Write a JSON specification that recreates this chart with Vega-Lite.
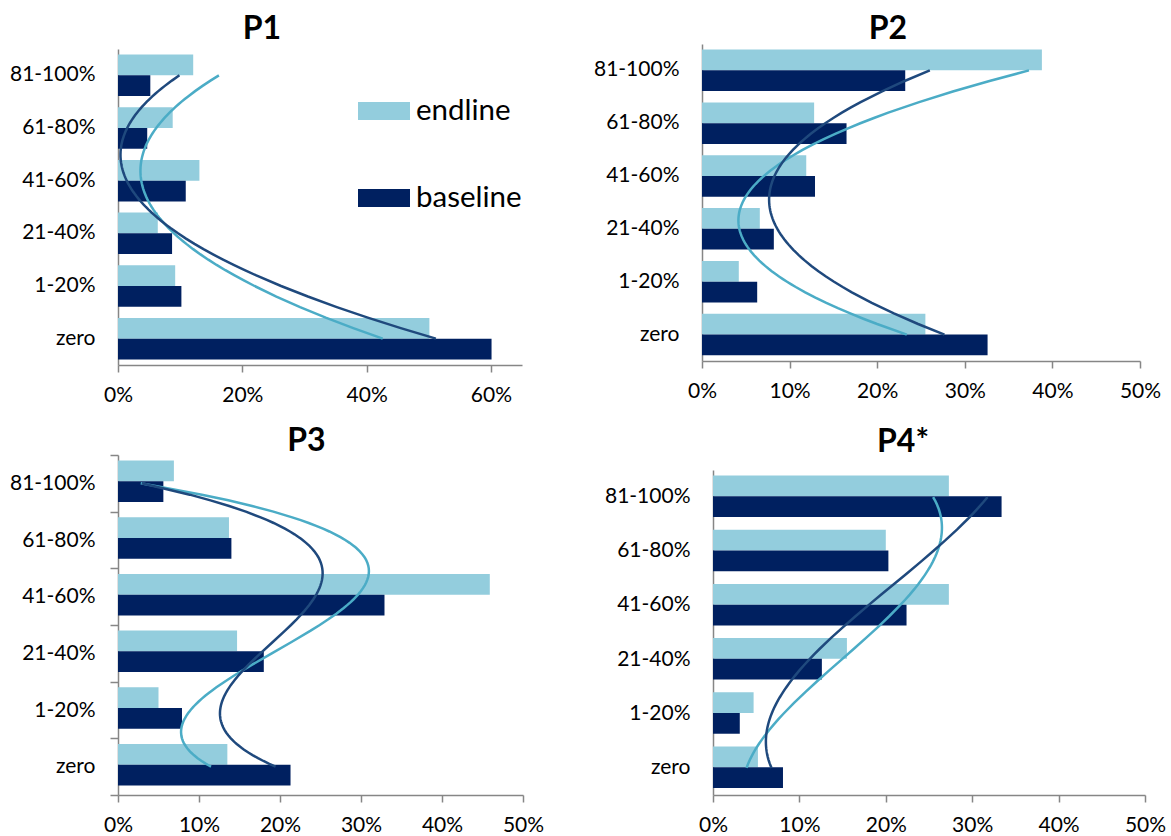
{
  "$schema": "https://vega.github.io/schema/vega-lite/v6.json",
  "background": "white",
  "padding": {"left": 9, "top": 13, "right": 5, "bottom": 0},
  "datasets": {
    "bars": [
      {"panel": "P1", "cat": "zero", "idx": 0, "series": "endline", "value": 0.501},
      {"panel": "P1", "cat": "zero", "idx": 0, "series": "baseline", "value": 0.601},
      {"panel": "P1", "cat": "1-20%", "idx": 1, "series": "endline", "value": 0.092},
      {"panel": "P1", "cat": "1-20%", "idx": 1, "series": "baseline", "value": 0.102},
      {"panel": "P1", "cat": "21-40%", "idx": 2, "series": "endline", "value": 0.064},
      {"panel": "P1", "cat": "21-40%", "idx": 2, "series": "baseline", "value": 0.087},
      {"panel": "P1", "cat": "41-60%", "idx": 3, "series": "endline", "value": 0.131},
      {"panel": "P1", "cat": "41-60%", "idx": 3, "series": "baseline", "value": 0.109},
      {"panel": "P1", "cat": "61-80%", "idx": 4, "series": "endline", "value": 0.088},
      {"panel": "P1", "cat": "61-80%", "idx": 4, "series": "baseline", "value": 0.047},
      {"panel": "P1", "cat": "81-100%", "idx": 5, "series": "endline", "value": 0.121},
      {"panel": "P1", "cat": "81-100%", "idx": 5, "series": "baseline", "value": 0.052},

      {"panel": "P2", "cat": "zero", "idx": 0, "series": "endline", "value": 0.255},
      {"panel": "P2", "cat": "zero", "idx": 0, "series": "baseline", "value": 0.326},
      {"panel": "P2", "cat": "1-20%", "idx": 1, "series": "endline", "value": 0.042},
      {"panel": "P2", "cat": "1-20%", "idx": 1, "series": "baseline", "value": 0.063},
      {"panel": "P2", "cat": "21-40%", "idx": 2, "series": "endline", "value": 0.066},
      {"panel": "P2", "cat": "21-40%", "idx": 2, "series": "baseline", "value": 0.082},
      {"panel": "P2", "cat": "41-60%", "idx": 3, "series": "endline", "value": 0.119},
      {"panel": "P2", "cat": "41-60%", "idx": 3, "series": "baseline", "value": 0.129},
      {"panel": "P2", "cat": "61-80%", "idx": 4, "series": "endline", "value": 0.128},
      {"panel": "P2", "cat": "61-80%", "idx": 4, "series": "baseline", "value": 0.165},
      {"panel": "P2", "cat": "81-100%", "idx": 5, "series": "endline", "value": 0.388},
      {"panel": "P2", "cat": "81-100%", "idx": 5, "series": "baseline", "value": 0.232},

      {"panel": "P3", "cat": "zero", "idx": 0, "series": "endline", "value": 0.135},
      {"panel": "P3", "cat": "zero", "idx": 0, "series": "baseline", "value": 0.213},
      {"panel": "P3", "cat": "1-20%", "idx": 1, "series": "endline", "value": 0.050},
      {"panel": "P3", "cat": "1-20%", "idx": 1, "series": "baseline", "value": 0.079},
      {"panel": "P3", "cat": "21-40%", "idx": 2, "series": "endline", "value": 0.147},
      {"panel": "P3", "cat": "21-40%", "idx": 2, "series": "baseline", "value": 0.180},
      {"panel": "P3", "cat": "41-60%", "idx": 3, "series": "endline", "value": 0.459},
      {"panel": "P3", "cat": "41-60%", "idx": 3, "series": "baseline", "value": 0.329},
      {"panel": "P3", "cat": "61-80%", "idx": 4, "series": "endline", "value": 0.137},
      {"panel": "P3", "cat": "61-80%", "idx": 4, "series": "baseline", "value": 0.140},
      {"panel": "P3", "cat": "81-100%", "idx": 5, "series": "endline", "value": 0.069},
      {"panel": "P3", "cat": "81-100%", "idx": 5, "series": "baseline", "value": 0.056},

      {"panel": "P4", "cat": "zero", "idx": 0, "series": "endline", "value": 0.052},
      {"panel": "P4", "cat": "zero", "idx": 0, "series": "baseline", "value": 0.081},
      {"panel": "P4", "cat": "1-20%", "idx": 1, "series": "endline", "value": 0.047},
      {"panel": "P4", "cat": "1-20%", "idx": 1, "series": "baseline", "value": 0.031},
      {"panel": "P4", "cat": "21-40%", "idx": 2, "series": "endline", "value": 0.155},
      {"panel": "P4", "cat": "21-40%", "idx": 2, "series": "baseline", "value": 0.126},
      {"panel": "P4", "cat": "41-60%", "idx": 3, "series": "endline", "value": 0.273},
      {"panel": "P4", "cat": "41-60%", "idx": 3, "series": "baseline", "value": 0.224},
      {"panel": "P4", "cat": "61-80%", "idx": 4, "series": "endline", "value": 0.200},
      {"panel": "P4", "cat": "61-80%", "idx": 4, "series": "baseline", "value": 0.203},
      {"panel": "P4", "cat": "81-100%", "idx": 5, "series": "endline", "value": 0.273},
      {"panel": "P4", "cat": "81-100%", "idx": 5, "series": "baseline", "value": 0.334}
    ]
  },
  "data": {"name": "bars"},
  "bounds": "full",
  "spacing": 20,
  "vconcat": [
    {
      "bounds": "flush",
      "spacing": 180,
      "hconcat": [
        {
          "title": {"text": "P1", "dx": -58, "offset": -2},
          "width": 404, "height": 321,
          "transform": [{"filter": "datum.panel === 'P1'"}],
          "layer": [
            {
              "mark": {"type": "bar"},
              "encoding": {
                "y": {"field": "cat", "type": "nominal", "sort": ["81-100%", "61-80%", "41-60%", "21-40%", "1-20%", "zero"],
                      "scale": {"range": [5, 321], "paddingInner": 0, "paddingOuter": 0},
                      "axis": {"title": null, "ticks": false, "labelPadding": 23}},
                "yOffset": {"field": "series", "sort": ["endline", "baseline"], "scale": {"paddingOuter": 0.27, "paddingInner": 0}},
                "x": {"field": "value", "type": "quantitative", "scale": {"domain": [0, 0.65], "nice": false},
                      "axis": {"title": null, "values": [0, 0.2, 0.4, 0.6], "format": ".0%"}},
                "color": {"field": "series", "type": "nominal",
                          "scale": {"domain": ["endline", "baseline"], "range": ["#93CDDD", "#002060"]},
                          "legend": {"title": null, "orient": "none", "legendX": 240, "legendY": 41,
                                     "symbolType": "M-1,-0.35H1V0.35H-1Z", "symbolSize": 2704,
                                     "symbolStrokeWidth": 0, "symbolOpacity": 1, "labelFontSize": 29.5,
                                     "labelFont": "Lato", "labelColor": "#000000", "labelOffset": 6,
                                     "rowPadding": 46, "padding": 0}}
              }
            },
            {
              "transform": [{"regression": "value", "on": "idx", "groupby": ["series"], "method": "poly", "order": 2, "extent": [0, 5]}],
              "mark": {"type": "line", "strokeWidth": 2.5},
              "encoding": {
                "y": {"field": "idx", "type": "quantitative", "scale": {"domain": [-0.5, 5.5], "range": [321, 5], "nice": false, "zero": false}, "axis": null},
                "x": {"field": "value", "type": "quantitative", "scale": {"domain": [0, 0.65], "nice": false}},
                "stroke": {"field": "series", "type": "nominal", "scale": {"domain": ["endline", "baseline"], "range": ["#4BACC6", "#1F497D"]}, "legend": null},
                "order": {"field": "idx", "type": "quantitative"}
              }
            }
          ],
          "resolve": {"scale": {"y": "independent"}}
        },
        {
          "title": {"text": "P2", "dx": -33, "offset": -2},
          "width": 438, "height": 317,
          "transform": [{"filter": "datum.panel === 'P2'"}],
          "layer": [
            {
              "mark": {"type": "bar"},
              "encoding": {
                "y": {"field": "cat", "type": "nominal", "sort": ["81-100%", "61-80%", "41-60%", "21-40%", "1-20%", "zero"],
                      "scale": {"paddingInner": 0, "paddingOuter": 0},
                      "axis": {"title": null, "ticks": false, "labelPadding": 23}},
                "yOffset": {"field": "series", "sort": ["endline", "baseline"], "scale": {"paddingOuter": 0.24, "paddingInner": 0}},
                "x": {"field": "value", "type": "quantitative", "scale": {"domain": [0, 0.5], "nice": false},
                      "axis": {"title": null, "values": [0, 0.1, 0.2, 0.3, 0.4, 0.5], "format": ".0%"}},
                "color": {"field": "series", "type": "nominal"}
              }
            },
            {
              "transform": [{"regression": "value", "on": "idx", "groupby": ["series"], "method": "poly", "order": 2, "extent": [0, 5]}],
              "mark": {"type": "line", "strokeWidth": 2.5},
              "encoding": {
                "y": {"field": "idx", "type": "quantitative", "scale": {"domain": [-0.5, 5.5], "nice": false, "zero": false}, "axis": null},
                "x": {"field": "value", "type": "quantitative", "scale": {"domain": [0, 0.5], "nice": false}},
                "stroke": {"field": "series", "type": "nominal", "legend": null},
                "order": {"field": "idx", "type": "quantitative"}
              }
            }
          ],
          "resolve": {"scale": {"y": "independent"}}
        }
      ]
    },
    {
      "bounds": "flush",
      "spacing": 190,
      "hconcat": [
        {
          "title": {"text": "P3", "dx": -14, "offset": -14},
          "width": 405, "height": 340,
          "transform": [{"filter": "datum.panel === 'P3'"}],
          "layer": [
            {
              "mark": {"type": "bar"},
              "encoding": {
                "y": {"field": "cat", "type": "nominal", "sort": ["81-100%", "61-80%", "41-60%", "21-40%", "1-20%", "zero"],
                      "scale": {"paddingInner": 0, "paddingOuter": 0},
                      "axis": {"title": null, "ticks": true, "tickBand": "extent", "tickSize": 8, "labelPadding": 15}},
                "yOffset": {"field": "series", "sort": ["endline", "baseline"], "scale": {"paddingOuter": 0.27, "paddingInner": 0}},
                "x": {"field": "value", "type": "quantitative", "scale": {"domain": [0, 0.5], "nice": false},
                      "axis": {"title": null, "values": [0, 0.1, 0.2, 0.3, 0.4, 0.5], "format": ".0%"}},
                "color": {"field": "series", "type": "nominal"}
              }
            },
            {
              "transform": [{"regression": "value", "on": "idx", "groupby": ["series"], "method": "poly", "order": 3, "extent": [0, 5]}],
              "mark": {"type": "line", "strokeWidth": 2.5},
              "encoding": {
                "y": {"field": "idx", "type": "quantitative", "scale": {"domain": [-0.5, 5.5], "nice": false, "zero": false}, "axis": null},
                "x": {"field": "value", "type": "quantitative", "scale": {"domain": [0, 0.5], "nice": false}},
                "stroke": {"field": "series", "type": "nominal", "legend": null},
                "order": {"field": "idx", "type": "quantitative"}
              }
            }
          ],
          "resolve": {"scale": {"y": "independent"}}
        },
        {
          "title": {"text": "P4*", "dx": -26, "offset": -4},
          "width": 432, "height": 340,
          "transform": [{"filter": "datum.panel === 'P4'"}],
          "layer": [
            {
              "mark": {"type": "bar"},
              "encoding": {
                "y": {"field": "cat", "type": "nominal", "sort": ["81-100%", "61-80%", "41-60%", "21-40%", "1-20%", "zero"],
                      "scale": {"range": [15, 340], "paddingInner": 0, "paddingOuter": 0},
                      "axis": {"title": null, "ticks": false, "labelPadding": 23}},
                "yOffset": {"field": "series", "sort": ["endline", "baseline"], "scale": {"paddingOuter": 0.27, "paddingInner": 0}},
                "x": {"field": "value", "type": "quantitative", "scale": {"domain": [0, 0.5], "nice": false},
                      "axis": {"title": null, "values": [0, 0.1, 0.2, 0.3, 0.4, 0.5], "format": ".0%"}},
                "color": {"field": "series", "type": "nominal"}
              }
            },
            {
              "transform": [{"regression": "value", "on": "idx", "groupby": ["series"], "method": "poly", "order": 3, "extent": [0, 5]}],
              "mark": {"type": "line", "strokeWidth": 2.5},
              "encoding": {
                "y": {"field": "idx", "type": "quantitative", "scale": {"domain": [-0.5, 5.5], "range": [340, 15], "nice": false, "zero": false}, "axis": null},
                "x": {"field": "value", "type": "quantitative", "scale": {"domain": [0, 0.5], "nice": false}},
                "stroke": {"field": "series", "type": "nominal", "legend": null},
                "order": {"field": "idx", "type": "quantitative"}
              }
            }
          ],
          "resolve": {"scale": {"y": "independent"}}
        }
      ]
    }
  ],
  "config": {
    "view": {"stroke": null},
    "font": "Lato",
    "title": {"font": "Lato", "fontSize": 32, "fontWeight": "bold", "color": "#000000", "anchor": "middle", "baseline": "alphabetic"},
    "axis": {
      "grid": false,
      "domainColor": "#868686", "domainWidth": 1.5,
      "tickColor": "#868686", "tickWidth": 1.5, "tickSize": 7,
      "labelFont": "Lato", "labelFontSize": 21, "labelColor": "#000000",
      "labelPadding": 12
    },
    "axisX": {"labelFlush": false, "labelOverlap": false}
  }
}
